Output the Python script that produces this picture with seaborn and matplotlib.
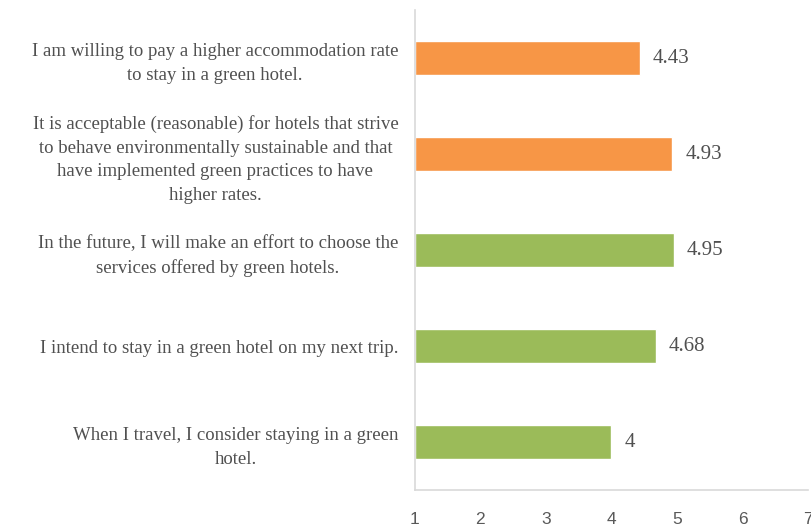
import matplotlib
matplotlib.use("Agg")
import matplotlib.pyplot as plt
import seaborn as sns
import pandas as pd

categories = [
    "I am willing to pay a higher accommodation rate\nto stay in a green hotel.",
    "It is acceptable (reasonable) for hotels that strive\nto behave environmentally sustainable and that\nhave implemented green practices to have\nhigher rates.",
    "In the future, I will make an effort to choose the\nservices offered by green hotels.",
    "I intend to stay in a green hotel on my next trip.",
    "When I travel, I consider staying in a green\nhotel.",
]
values = [4.43, 4.93, 4.95, 4.68, 4.0]
value_labels = ["4.43", "4.93", "4.95", "4.68", "4"]
groups = ["pay", "pay", "intent", "intent", "intent"]
xticks = [1, 2, 3, 4, 5, 6, 7]

palette = {"pay": "#F79646", "intent": "#9BBB59"}

df = pd.DataFrame({"cat": categories, "val": values, "grp": groups})

sns.set_style("white")
fig = plt.figure(figsize=(8.12, 5.27), dpi=100)
ax = fig.add_axes([0.511, 0.070, 0.484, 0.911])

sns.barplot(data=df, y="cat", x="val", hue="grp", palette=palette,
            orient="h", dodge=False, width=0.36, legend=False, ax=ax,
            saturation=1)

# bars start at 1 (axis origin)
for p in ax.patches:
    w = p.get_width()
    p.set_x(1)
    p.set_width(w - 1)

ax.set_xlim(1, 7)
ax.set_ylim(4.5, -0.5)
ax.set_xticks(xticks)
ax.set_xticklabels([str(t) for t in xticks], fontsize=12.5, color="#595959",
                   family="Liberation Sans")
ax.set_yticks(range(len(categories)))
ax.set_yticklabels(categories, fontsize=13.5, color="#505050",
                   family="Liberation Serif", ha="right", multialignment="center",
                   linespacing=1.52)
ax.tick_params(axis="y", length=0, pad=12)
ax.tick_params(axis="x", length=0, pad=16)
ax.set_xlabel("")
ax.set_ylabel("")

for i, (v, lab) in enumerate(zip(values, value_labels)):
    ax.text(v + 0.2, i, lab, va="center", ha="left", fontsize=15,
            color="#505050", family="Liberation Serif")

for s in ["top", "right"]:
    ax.spines[s].set_visible(False)
for s in ["left", "bottom"]:
    ax.spines[s].set_color("#D9D9D9")
    ax.spines[s].set_linewidth(1.2)

fig.savefig("out.png", dpi=100)
